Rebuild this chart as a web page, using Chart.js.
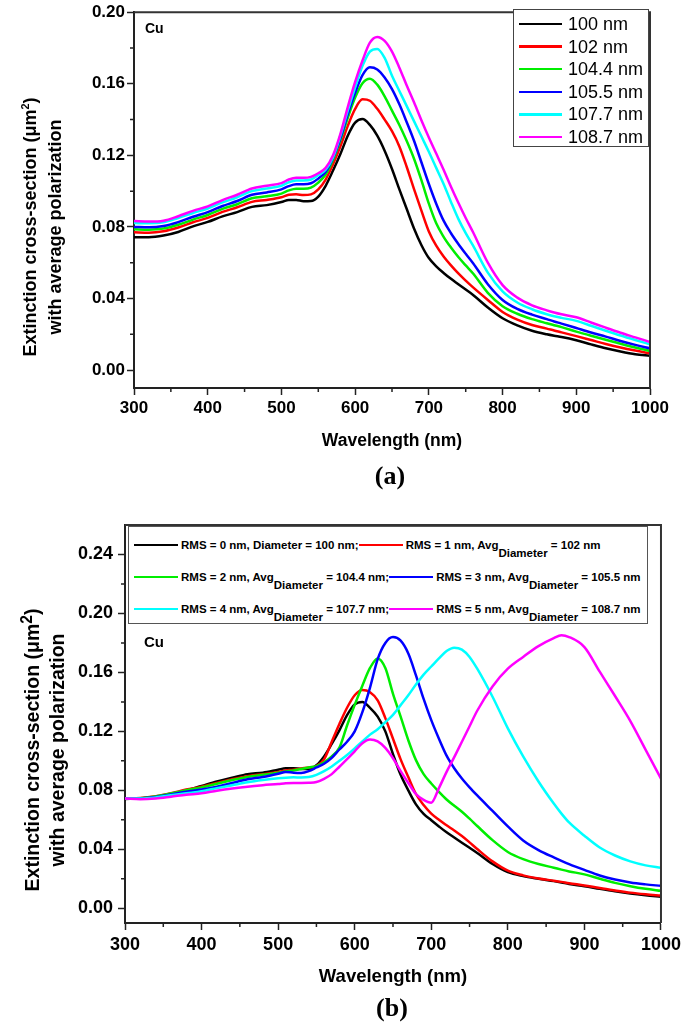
<!DOCTYPE html>
<html><head><meta charset="utf-8">
<script src="https://cdn.jsdelivr.net/npm/chart.js@4.4.1/dist/chart.umd.min.js"></script>
<style>
html,body{margin:0;padding:0;background:#fff;}
body{width:685px;height:1024px;position:relative;overflow:hidden;font-family:'Liberation Sans',Arial,sans-serif;color:#000;}
canvas{position:absolute;left:0;}
#ca{top:0;} #cb{top:500px;}
.ytitle{position:absolute;transform:rotate(-90deg);transform-origin:50% 50%;text-align:center;font-weight:bold;white-space:nowrap;}
.panel{position:absolute;font-family:'Liberation Serif','Times New Roman',serif;font-weight:bold;font-size:26px;line-height:30px;transform:translate(-50%,-50%);}
.cu{position:absolute;font-weight:bold;line-height:16px;}
.legA{position:absolute;left:513px;top:9px;width:136px;height:138px;box-sizing:border-box;border:1.5px solid #444;background:#fff;}
.legA .row{position:absolute;left:5px;height:22px;display:flex;align-items:center;}
.legA .ls{display:inline-block;width:43px;height:2.5px;margin-right:6px;}
.legA .lt{font-size:18px;line-height:22px;}
.legB{position:absolute;left:128px;top:526px;width:520px;height:98px;box-sizing:border-box;border:1.5px solid #555;background:#fff;}
.legB .row{position:absolute;left:5px;height:16px;display:flex;align-items:center;white-space:nowrap;}
.legB .ls{display:inline-block;width:44px;height:2.5px;margin-right:3px;}
.legB .lt{font-size:11.5px;font-weight:bold;line-height:16px;}
.legB .sb{position:relative;top:8px;}
</style>
</head><body>
<canvas id="ca" width="685" height="500"></canvas>
<canvas id="cb" width="685" height="524"></canvas>

<div class="ytitle" id="yta" style="left:-117px;top:202px;width:320px;height:50px;font-size:18px;line-height:25px;">Extinction cross-section (&mu;m<sup style="font-size:0.6em;line-height:0">2</sup>)<br>with average polarization</div>
<div class="ytitle" id="ytb" style="left:-125px;top:725px;width:340px;height:50px;font-size:19.5px;line-height:25px;">Extinction cross-section (&mu;m<sup style="font-size:0.8em;line-height:0">2</sup>)<br>with average polarization</div>

<div class="cu" style="left:145px;top:20px;font-size:14px;">Cu</div>
<div class="cu" style="left:144px;top:634px;font-size:15px;">Cu</div>

<div class="panel" style="left:390px;top:476px;">(a)</div>
<div class="panel" style="left:392px;top:1008px;">(b)</div>

<div class="legA" id="legA"></div>
<div class="legB" id="legB"></div>

<script>
// ---------------- DATA ----------------
const wavelength = [300,320,340,360,380,400,420,440,460,480,500,510,520,530,540,550,560,570,580,590,600,610,620,630,640,650,660,670,680,690,700,710,720,730,740,750,760,780,800,820,840,860,870,880,900,920,940,960,980,1000];

// Panel (a): diameters
const a100  = [.0743,.0743,.0752,.0772,.0803,.0828,.0859,.0883,.0912,.0922,.0939,.0951,.0951,.0944,.0945,.0970,.1030,.1115,.1207,.1310,.1383,.1403,.1370,.1310,.1226,.1124,.1010,.0900,.0790,.0698,.0626,.0580,.0543,.0510,.0480,.0450,.0420,.0350,.0290,.0250,.0220,.0200,.0192,.0185,.0167,.0144,.0122,.0104,.0089,.0080];
const a102  = [.0770,.0768,.0776,.0797,.0826,.0851,.0884,.0910,.0940,.0951,.0966,.0980,.0982,.0978,.0982,.1010,.1065,.1150,.1250,.1365,.1460,.1513,.1505,.1460,.1400,.1335,.1250,.1135,.1010,.0890,.0775,.0695,.0635,.0585,.0540,.0500,.0462,.0392,.0325,.0282,.0252,.0232,.0221,.0211,.0190,.0168,.0146,.0126,.0109,.0094];
const a104  = [.0787,.0785,.0791,.0812,.0841,.0867,.0901,.0927,.0960,.0971,.0986,.1004,.1014,.1014,.1020,.1048,.1093,.1175,.1285,.1410,.1523,.1603,.1628,.1595,.1530,.1450,.1370,.1280,.1180,.1060,.0930,.0820,.0745,.0685,.0632,.0585,.0540,.0432,.0357,.0315,.0285,.0262,.0251,.0240,.0215,.0192,.0170,.0147,.0126,.0107];
const a105  = [.0800,.0798,.0805,.0827,.0857,.0883,.0917,.0945,.0980,.0993,.1010,.1028,.1038,.1038,.1044,.1070,.1108,.1185,.1295,.1430,.1550,.1648,.1692,.1680,.1635,.1570,.1485,.1385,.1280,.1160,.1040,.0930,.0835,.0765,.0705,.0650,.0597,.0480,.0392,.0342,.0310,.0285,.0272,.0260,.0235,.0210,.0187,.0163,.0141,.0122];
const a107  = [.0822,.0820,.0826,.0850,.0878,.0903,.0937,.0966,.1000,.1015,.1030,.1050,.1060,.1060,.1065,.1090,.1120,.1190,.1310,.1450,.1580,.1700,.1780,.1795,.1745,.1645,.1560,.1475,.1390,.1305,.1220,.1130,.1040,.0940,.0845,.0765,.0695,.0545,.0440,.0378,.0340,.0312,.0301,.0292,.0275,.0248,.0220,.0193,.0168,.0144];
const a108  = [.0833,.0830,.0835,.0860,.0890,.0915,.0950,.0980,.1015,.1030,.1045,.1065,.1075,.1075,.1080,.1100,.1130,.1200,.1320,.1470,.1610,.1730,.1830,.1862,.1840,.1780,.1690,.1590,.1495,.1395,.1300,.1210,.1120,.1025,.0935,.0850,.0770,.0600,.0475,.0405,.0362,.0334,.0322,.0312,.0295,.0266,.0237,.0209,.0183,.0157];

// Panel (b): RMS roughness
const bRms0 = [.0742,.0745,.0755,.0775,.0800,.0830,.0860,.0885,.0910,.0920,.0940,.0950,.0950,.0945,.0945,.0970,.1030,.1115,.1207,.1310,.1383,.1400,.1360,.1300,.1200,.1045,.0905,.0800,.0705,.0640,.0597,.0555,.0515,.0480,.0445,.0410,.0375,.0300,.0245,.0218,.0200,.0184,.0175,.0165,.0150,.0132,.0115,.0100,.0088,.0078];
const bRms1 = [.0745,.0748,.0760,.0780,.0805,.0825,.0850,.0875,.0895,.0910,.0925,.0935,.0940,.0948,.0955,.0965,.1010,.1130,.1250,.1360,.1445,.1480,.1465,.1410,.1290,.1150,.1010,.0890,.0775,.0700,.0642,.0600,.0563,.0528,.0490,.0447,.0402,.0318,.0255,.0223,.0202,.0187,.0179,.0170,.0155,.0137,.0121,.0106,.0095,.0086];
const bRms2 = [.0745,.0747,.0758,.0778,.0800,.0820,.0845,.0870,.0890,.0905,.0920,.0928,.0935,.0945,.0955,.0964,.0990,.1030,.1090,.1240,.1380,.1510,.1630,.1695,.1630,.1455,.1300,.1140,.1005,.0910,.0846,.0790,.0738,.0695,.0655,.0608,.0558,.0462,.0382,.0333,.0300,.0275,.0262,.0250,.0230,.0200,.0172,.0150,.0132,.0118];
const bRms3 = [.0745,.0745,.0755,.0772,.0790,.0805,.0825,.0850,.0875,.0890,.0912,.0925,.0920,.0918,.0930,.0955,.0980,.1020,.1077,.1130,.1200,.1330,.1497,.1690,.1800,.1840,.1815,.1728,.1580,.1420,.1276,.1150,.1035,.0950,.0880,.0820,.0765,.0660,.0555,.0460,.0395,.0345,.0322,.0300,.0260,.0222,.0195,.0175,.0162,.0152];
const bRms4 = [.0745,.0745,.0752,.0766,.0780,.0794,.0815,.0835,.0855,.0870,.0882,.0886,.0888,.0887,.0890,.0905,.0930,.0962,.1000,.1040,.1085,.1132,.1178,.1215,.1262,.1312,.1378,.1445,.1518,.1585,.1640,.1695,.1745,.1768,.1755,.1705,.1625,.1435,.1220,.1030,.0860,.0710,.0642,.0582,.0492,.0412,.0358,.0318,.0291,.0275];
const bRms5 = [.0745,.0740,.0745,.0757,.0770,.0780,.0797,.0812,.0825,.0835,.0843,.0848,.0850,.0850,.0851,.0856,.0878,.0910,.0960,.1012,.1065,.1120,.1145,.1132,.1088,.1018,.0930,.0850,.0775,.0735,.0716,.0815,.0925,.1025,.1130,.1235,.1340,.1505,.1625,.1705,.1778,.1832,.1852,.1840,.1772,.1605,.1440,.1270,.1075,.0880];

const labelsA = ['100 nm','102 nm','104.4 nm','105.5 nm','107.7 nm','108.7 nm'];
const labelsB = [
  ['RMS = 0 nm, Diameter = 100 nm;','',''],
  ['RMS = 1 nm, Avg','Diameter',' = 102 nm'],
  ['RMS = 2 nm, Avg','Diameter',' = 104.4 nm;'],
  ['RMS = 3 nm, Avg','Diameter',' = 105.5 nm'],
  ['RMS = 4 nm, Avg','Diameter',' = 107.7 nm;'],
  ['RMS = 5 nm, Avg','Diameter',' = 108.7 nm']
];
const colors = ['#000000','#ff0000','#00ee00','#0000ff','#00ffff','#ff00ff'];

const xTicks = [300,400,500,600,700,800,900,1000];
const xMinor = [350,450,550,650,750,850,950];
const yTicksA = [0,0.04,0.08,0.12,0.16,0.20];
const yMinorA = [0.02,0.06,0.10,0.14,0.18];
const yTicksB = [0,0.04,0.08,0.12,0.16,0.20,0.24];
const yMinorB = [0.02,0.06,0.10,0.14,0.18,0.22];

// ---------------- CHARTS ----------------
const FONT = "'Liberation Sans', Arial, sans-serif";
Chart.defaults.font.family = FONT;
Chart.defaults.color = '#000';

const frameTicks = {
  id:'frameTicks',
  afterDraw(chart, args, o){
    const {ctx, chartArea:ca, scales} = chart;
    ctx.save();
    ctx.strokeStyle = '#222';
    ctx.lineWidth = 1.5;
    ctx.beginPath();
    o.yMinor.forEach(v=>{ const p = scales.y.getPixelForValue(v); ctx.moveTo(ca.left-4, p); ctx.lineTo(ca.left, p); });
    o.xMinor.forEach(v=>{ const p = scales.x.getPixelForValue(v); ctx.moveTo(p, ca.bottom); ctx.lineTo(p, ca.bottom+4); });
    ctx.stroke();
    ctx.lineWidth = 2;
    ctx.strokeStyle = '#333';
    ctx.beginPath();
    ctx.moveTo(ca.left, ca.top); ctx.lineTo(ca.right, ca.top); ctx.lineTo(ca.right, ca.bottom);
    ctx.stroke();
    ctx.restore();
  }
};

function makeDatasets(series, labels){
  return series.map((arr,i)=>({
    label: Array.isArray(labels[i]) ? labels[i].join('') : labels[i],
    data: wavelength.map((w,j)=>({x:w, y:arr[j]})),
    borderColor: colors[i],
    backgroundColor: colors[i],
    borderWidth: 2.5,
    pointRadius: 0,
    fill: false,
    cubicInterpolationMode: 'monotone',
    order: series.length - 1 - i
  }));
}

function makeConfig(p){
  return {
    type:'line',
    data:{datasets: p.datasets},
    plugins:[frameTicks],
    options:{
      responsive:false, animation:false, devicePixelRatio:1,
      layout:{padding:p.padding},
      plugins:{legend:{display:false}, tooltip:{enabled:false}, frameTicks:{xMinor:xMinor, yMinor:p.yMinor}},
      scales:{
        x:{type:'linear', min:300, max:1000,
          afterBuildTicks:s=>{ s.ticks = xTicks.map(v=>({value:v})); },
          afterFit:s=>{ s.height = p.xHeight; },
          grid:{drawOnChartArea:false, drawTicks:true, tickLength:7, tickWidth:1.5, tickColor:'#222'},
          border:{display:true, color:'#222', width:2},
          ticks:{autoSkip:false, maxRotation:0, padding:p.xPad, color:'#000', font:{size:p.tickSize, weight:'bold'}, callback:v=>String(v)},
          title:{display:true, text:'Wavelength (nm)', color:'#000', font:{size:p.titleSize, weight:'bold'}, padding:{top:0, bottom:p.titlePadBottom}}
        },
        y:{type:'linear', min:-0.01, max:p.yMax,
          afterBuildTicks:s=>{ s.ticks = p.yTicks.map(v=>({value:v})); },
          afterFit:s=>{ s.width = p.yWidth; },
          grid:{drawOnChartArea:false, drawTicks:true, tickLength:7, tickWidth:1.5, tickColor:'#222'},
          border:{display:true, color:'#222', width:2},
          ticks:{padding:p.yPad, color:'#000', font:{size:p.tickSize, weight:'bold'}, callback:v=>Number(v).toFixed(2)}
        }
      }
    }
  };
}

new Chart(document.getElementById('ca'), makeConfig({
  datasets: makeDatasets([a100,a102,a104,a105,a107,a108], labelsA),
  padding:{top:9, right:35, left:0, bottom:0},
  xHeight:112, yWidth:134, yMax:0.20, yTicks:yTicksA, yMinor:yMinorA,
  tickSize:17, titleSize:17.5, xPad:3, yPad:2, titlePadBottom:48.5
}));

new Chart(document.getElementById('cb'), makeConfig({
  datasets: makeDatasets([bRms0,bRms1,bRms2,bRms3,bRms4,bRms5], labelsB),
  padding:{top:25, right:21, left:0, bottom:0},
  xHeight:101, yWidth:125, yMax:0.26, yTicks:yTicksB, yMinor:yMinorB,
  tickSize:18, titleSize:18.5, xPad:4, yPad:5, titlePadBottom:36
}));

// ---------------- LEGENDS (HTML, for sub-scripts) ----------------
const legA = document.getElementById('legA');
labelsA.forEach((t,i)=>{
  const r = document.createElement('div');
  r.className='row';
  r.style.top = (3 + 22.6*i) + 'px';
  r.innerHTML = '<span class="ls" style="background:'+colors[i]+'"></span><span class="lt">'+t+'</span>';
  legA.appendChild(r);
});
const legB = document.getElementById('legB');
function bItem(i){
  const l = labelsB[i];
  const sub = l[1] ? '<span class="sb">'+l[1]+'</span>' : '';
  return '<span class="ls" style="background:'+colors[i]+'"></span><span class="lt">'+l[0]+sub+l[2]+'</span>';
}
for(let r=0;r<3;r++){
  const d = document.createElement('div');
  d.className='row';
  d.style.top = (10 + 32*r) + 'px';
  d.innerHTML = bItem(2*r) + bItem(2*r+1);
  legB.appendChild(d);
}
</script>
</body></html>
